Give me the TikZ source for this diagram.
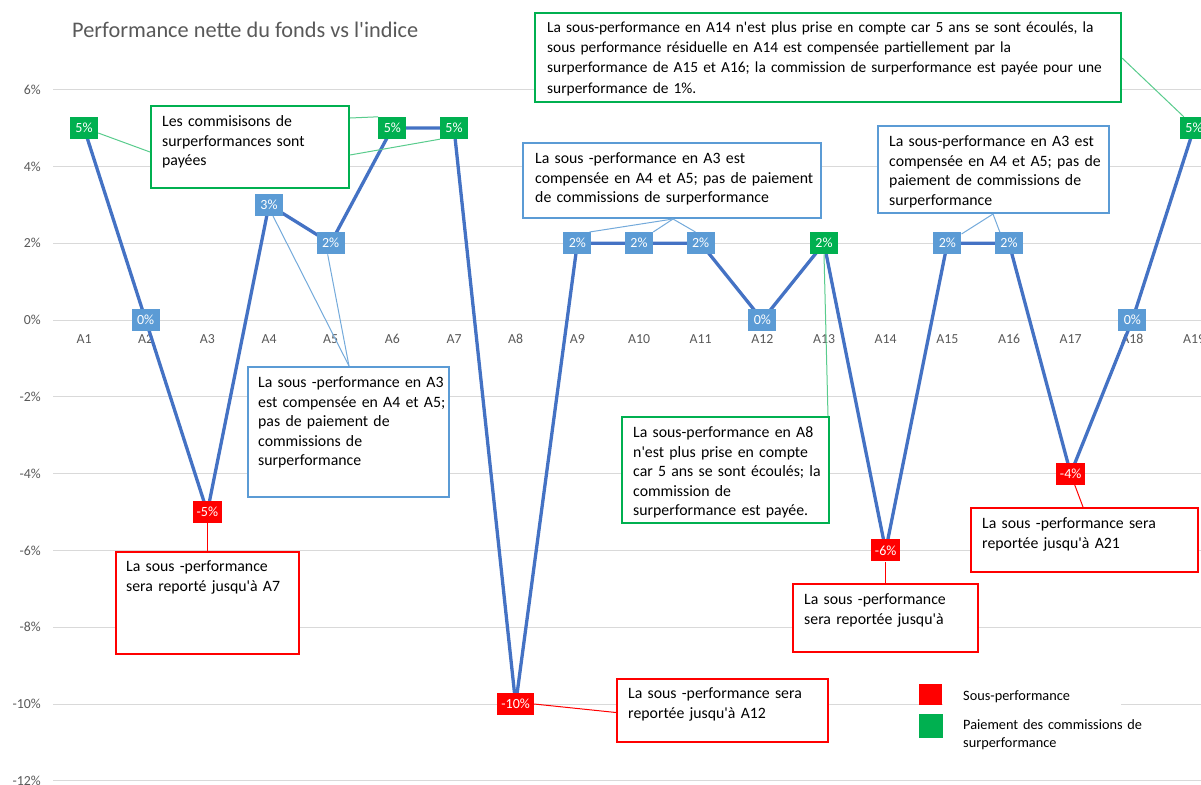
\documentclass[tikz,border=0pt]{standalone}
\usepackage{fontspec}
\setmainfont{Carlito}[Ligatures=TeXOff]
\usetikzlibrary{calc}
\definecolor{gridc}{HTML}{D9D9D9}
\definecolor{axc}{HTML}{595959}
\definecolor{serc}{HTML}{4472C4}
\definecolor{bl}{HTML}{5B9BD5}
\definecolor{gr}{HTML}{00B050}
\definecolor{rd}{HTML}{FF0000}
\begin{document}
\begin{tikzpicture}[x=1pt,y=-1pt,
  gridline/.style={gridc, line width=1pt},
  ylab/.style={text=axc, font=\fontsize{13.8}{16}\selectfont, anchor=east, inner sep=0pt},
  xlab/.style={text=axc, font=\fontsize{13.8}{16}\selectfont, inner sep=0pt},
  series/.style={serc, line width=3.3pt, line join=round},
  dlab/.style={text=white, font=\fontsize{14}{16}\selectfont, minimum width=28pt, minimum height=22pt, inner xsep=4pt, inner ysep=0pt},
  cbox/.style={draw=#1, line width=2pt, fill=white, anchor=north west, inner sep=0pt},
  ctext/.style={anchor=base west, inner sep=0pt, font=\fontsize{15.8}{19.5}\selectfont, text width=#1, align=left},
  gleader/.style={gr!65, line width=1pt},
  bleader/.style={bl!85, line width=1pt},
  rleader/.style={rd, line width=1pt},
  legtext/.style={anchor=base west, inner sep=0pt, font=\fontsize{14.3}{18}\selectfont, text width=180pt, align=left}
]
\useasboundingbox (0,0) rectangle (1201,784);
\fill[white] (0,0) rectangle (1201,784);

% title
\node[anchor=west, inner sep=0pt, text=axc, font=\fontsize{22.3}{26}\selectfont] (title) at (72,30) {Performance nette du fonds vs l'indice};

% grid and y labels
\foreach \v [count=\k] in {6,4,2,0,-2,-4,-6,-8,-10,-12} {
  \draw[gridline] (53,{320-\v*38.4}) -- (1201,{320-\v*38.4});
  \node[ylab] (yl\k) at (41,{320-\v*38.4}) {\v\%};
}
% x labels
\foreach \i in {1,...,19} {
  \node[xlab] (xl\i) at ({84+(\i-1)*61.667},339) {A\i};
}
% data points
\foreach \i/\v in {1/5,2/0,3/-5,4/3,5/2,6/5,7/5,8/-10,9/2,10/2,11/2,12/0,13/2,14/-6,15/2,16/2,17/-4,18/0,19/5} {
  \coordinate (p\i) at ({84+(\i-1)*61.667},{320-\v*38.4});
}
\draw[series] (p1) -- (p2) -- (p3) -- (p4) -- (p5) -- (p6) -- (p7) -- (p8) -- (p9) -- (p10) -- (p11) -- (p12) -- (p13) -- (p14) -- (p15) -- (p16) -- (p17) -- (p18) -- (p19);

% legend background
\node[fill=white, anchor=north west, minimum width=178pt, minimum height=70pt, inner sep=0pt] (legbg) at (943,682) {};

% callout boxes
\node[cbox=gr, minimum width=198pt, minimum height=82pt] (b1) at (150,105) {};
\node[cbox=gr, minimum width=586pt, minimum height=89pt] (btop) at (534,12) {};
\node[cbox=bl, minimum width=298pt, minimum height=75pt] (bmid) at (522,142) {};
\node[cbox=bl, minimum width=231pt, minimum height=87pt] (bright) at (877,125) {};
\node[cbox=bl, minimum width=201pt, minimum height=130pt] (bleft) at (247,366) {};
\node[cbox=gr, minimum width=207pt, minimum height=106pt] (bbot) at (621,416) {};
\node[cbox=rd, minimum width=183pt, minimum height=102pt] (r3) at (115,551) {};
\node[cbox=rd, minimum width=211pt, minimum height=63pt] (r8) at (616,678) {};
\node[cbox=rd, minimum width=185pt, minimum height=68pt] (r14) at (792,583) {};
\node[cbox=rd, minimum width=227pt, minimum height=64pt] (r17) at (970,507) {};

% callout texts
\node[ctext=190pt] (t1) at (162,126.5) {Les commisisons de\\surperformances sont\\payées};
\node[ctext=580pt, font=\fontsize{15.4}{20.2}\selectfont] (ttop) at (547,32.5) {La sous-performance en A14 n'est plus prise en compte car 5 ans se sont écoulés, la\\sous performance résiduelle en A14 est compensée partiellement par la\\surperformance de A15 et A16; la commission de surperformance est payée pour une\\surperformance de 1\%.};
\node[ctext=290pt] (tmid) at (535,163.5) {La sous -performance en A3 est\\compensée en A4 et A5; pas de paiement\\de commissions de surperformance};
\node[ctext=225pt] (tright) at (889,146.5) {La sous-performance en A3 est\\compensée en A4 et A5; pas de\\paiement de commissions de\\surperformance};
\node[ctext=195pt] (tleft) at (258,387.5) {La sous -performance en A3\\est compensée en A4 et A5;\\pas de paiement de\\commissions de\\surperformance};
\node[ctext=200pt] (tbot) at (633,437.5) {La sous-performance en A8\\n'est plus prise en compte\\car 5 ans se sont écoulés; la\\commission de\\surperformance est payée.};
\node[ctext=180pt] (t3) at (126,571.5) {La sous -performance\\sera reporté jusqu'à A7};
\node[ctext=205pt] (t8) at (628,698.5) {La sous -performance sera\\reportée jusqu'à A12};
\node[ctext=180pt] (t14) at (804,604.5) {La sous -performance\\sera reportée jusqu'à};
\node[ctext=220pt] (t17) at (982,528.5) {La sous -performance sera\\reportée jusqu'à A21};

% data labels
\foreach \i/\v/\c in {1/5/gr,2/0/bl,3/-5/rd,4/3/bl,5/2/bl,6/5/gr,7/5/gr,8/-10/rd,9/2/bl,10/2/bl,11/2/bl,12/0/bl,13/2/gr,14/-6/rd,15/2/bl,16/2/bl,17/-4/rd,18/0/bl,19/5/gr} {
  \node[dlab, fill=\c] (l\i) at (p\i) {\v\%};
}

% leaders
\draw[gleader] ($(l1.east)+(0,5)$) -- ($(b1.west)+(0,5)$);
\draw[gleader] ($(b1.north east)+(0,13)$) -- ($(l6.north west)+(0,0)$);
\draw[gleader] ($(b1.north east)+(0,50)$) -- (l7.south west);
\draw[gleader] ($(btop.north east)+(0,46)$) -- ($(l19.north west)+(4,0)$);
\draw[gleader] (l13.south) -- ($(bbot.north east)+(-2,0)$);
\draw[bleader] ($(bmid.south west)+(151,0)$) -- ($(l9.north east)+(-2,0)$);
\draw[bleader] ($(bmid.south west)+(151,0)$) -- ($(l10.north east)+(0,0)$);
\draw[bleader] ($(bmid.south west)+(151,0)$) -- ($(l11.north west)+(9,0)$);
\draw[bleader] ($(bright.south west)+(116,0)$) -- ($(l15.north east)+(0,2)$);
\draw[bleader] ($(bright.south west)+(116,0)$) -- ($(l16.north west)+(5,0)$);
\draw[bleader] ($(bleft.north west)+(102,0)$) -- ($(l4.south)+(4,0)$);
\draw[bleader] ($(bleft.north west)+(102,0)$) -- ($(l5.south)+(-3,0)$);
\draw[rleader] (l3.south) -- (r3.north -| l3.south);
\draw[rleader] (l8.east) -- ($(r8.west)+(0,2)$);
\draw[rleader] (l14.south) -- (r14.north -| l14.south);
\draw[rleader] ($(l17.south)+(4,0)$) -- ($(r17.north west)+(113,0)$);

% legend
\node[fill=rd, minimum width=23pt, minimum height=21pt, inner sep=0pt, anchor=north west] (lg1) at (919,684) {};
\node[fill=gr, minimum width=24pt, minimum height=24pt, inner sep=0pt, anchor=north west] (lg2) at (919,714) {};
\node[legtext] (lt1) at (963,700.5) {Sous-performance};
\node[legtext] (lt2) at (963,729.5) {Paiement des commissions de\\surperformance};
\end{tikzpicture}
\end{document}
